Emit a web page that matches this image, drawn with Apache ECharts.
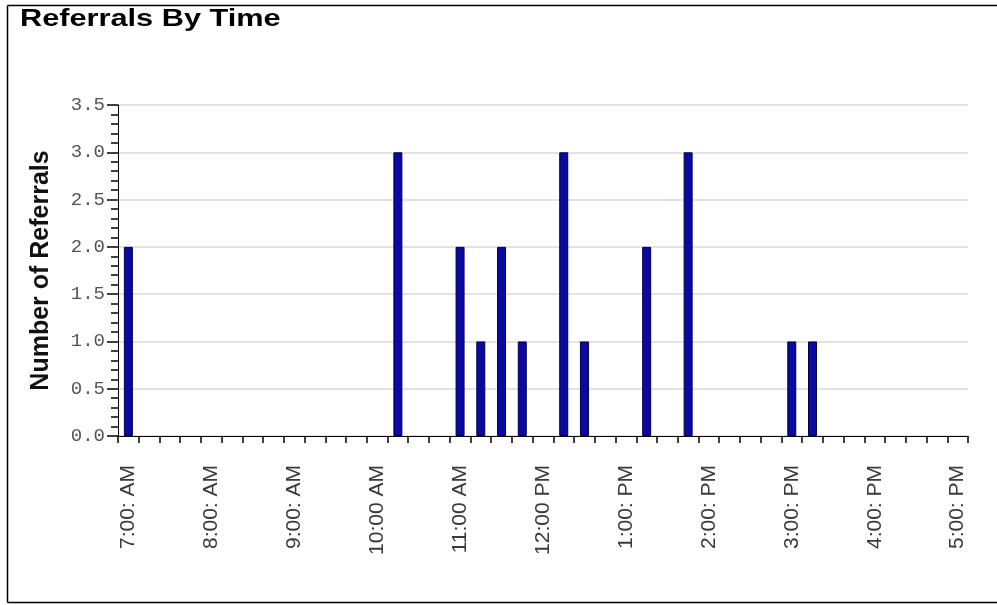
<!DOCTYPE html>
<html>
<head>
<meta charset="utf-8">
<script src="https://cdn.jsdelivr.net/npm/echarts@6/dist/echarts.min.js"></script>
<style>
html,body{margin:0;padding:0;background:#fff;}
#chart{width:997px;height:605px;}
</style>
</head>
<body>
<div id="chart"></div>
<script>
// 15-minute slots from 7:00 AM to 5:00 PM
const categories = [
  "7:00 AM","7:15 AM","7:30 AM","7:45 AM",
  "8:00 AM","8:15 AM","8:30 AM","8:45 AM",
  "9:00 AM","9:15 AM","9:30 AM","9:45 AM",
  "10:00 AM","10:15 AM","10:30 AM","10:45 AM",
  "11:00 AM","11:15 AM","11:30 AM","11:45 AM",
  "12:00 PM","12:15 PM","12:30 PM","12:45 PM",
  "1:00 PM","1:15 PM","1:30 PM","1:45 PM",
  "2:00 PM","2:15 PM","2:30 PM","2:45 PM",
  "3:00 PM","3:15 PM","3:30 PM","3:45 PM",
  "4:00 PM","4:15 PM","4:30 PM","4:45 PM",
  "5:00 PM"
];
const referrals = [
  2,0,0,0,
  0,0,0,0,
  0,0,0,0,
  0,3,0,0,
  2,1,2,1,
  0,3,1,0,
  0,2,0,3,
  0,0,0,0,
  1,1,0,0,
  0,0,0,0,
  0
];
const tickLabels = ["7:00: AM","8:00: AM","9:00: AM","10:00 AM","11:00 AM","12:00 PM","1:00: PM","2:00: PM","3:00: PM","4:00: PM","5:00: PM"];
const yTickLabels = ["0.0","0.5","1.0","1.5","2.0","2.5","3.0","3.5"];
const titleText = "Referrals By Time";
const yAxisTitle = "Number of Referrals";

const chart = echarts.init(document.getElementById('chart'), null, {renderer:'canvas'});
chart.setOption({
  backgroundColor: '#ffffff',
  animation: false,
  graphic: [
    {type:'line', shape:{x1:7.5,y1:5.5,x2:997,y2:5.5}, style:{stroke:'#000',lineWidth:1.5}},
    {type:'line', shape:{x1:7.5,y1:5.5,x2:7.5,y2:602.5}, style:{stroke:'#000',lineWidth:1.5}},
    {type:'line', shape:{x1:7.5,y1:602.5,x2:997,y2:602.5}, style:{stroke:'#000',lineWidth:1.5}},
    {type:'text', x:20, y:7, scaleX:1.28, scaleY:1,
     style:{text:titleText, fill:'#000', font:'bold 24px "Liberation Sans", Arial, sans-serif', textVerticalAlign:'top'}}
  ],
  grid: {left:118, right:29, top:105, bottom:169, containLabel:false},
  xAxis: {
    type:'category',
    data: categories,
    boundaryGap: true,
    axisLine:{show:true, lineStyle:{color:'#000', width:1}},
    axisTick:{show:true, interval:0, length:7, lineStyle:{color:'#000', width:1.5}},
    axisLabel:{
      interval:0, rotate:90, margin:29,
      color:'#3a3a3a', fontSize:21, fontFamily:'"Liberation Sans", Arial, sans-serif',
      formatter: function(v, i){ return (i % 4 === 0) ? tickLabels[i/4] : ''; }
    },
    splitLine:{show:false}
  },
  yAxis: {
    type:'value', min:0, max:3.5, interval:0.5,
    name: yAxisTitle, nameLocation:'middle', nameGap:64,
    nameTextStyle:{color:'#111', fontSize:25, fontWeight:'bold', fontFamily:'"Liberation Sans", Arial, sans-serif'},
    axisLine:{show:true, lineStyle:{color:'#000', width:1}},
    axisTick:{show:true, length:11, lineStyle:{color:'#000', width:1.5}},
    minorTick:{show:true, splitNumber:5, length:7, lineStyle:{color:'#000', width:1.5}},
    axisLabel:{
      margin:13, color:'#555', fontSize:19, fontFamily:'"Liberation Mono", "DejaVu Sans Mono", monospace',
      formatter: function(v){ return yTickLabels[Math.round(v/0.5)]; }
    },
    splitLine:{show:true, lineStyle:{color:'#d9d9d9', width:1.5}}
  },
  series: [{
    type:'bar',
    data: referrals.map(function(v){ return v === 0 ? '-' : v; }),
    barWidth: 9,
    itemStyle:{color:'#0a0aa0', borderColor:'#000050', borderWidth:1}
  }]
});
</script>
</body>
</html>
